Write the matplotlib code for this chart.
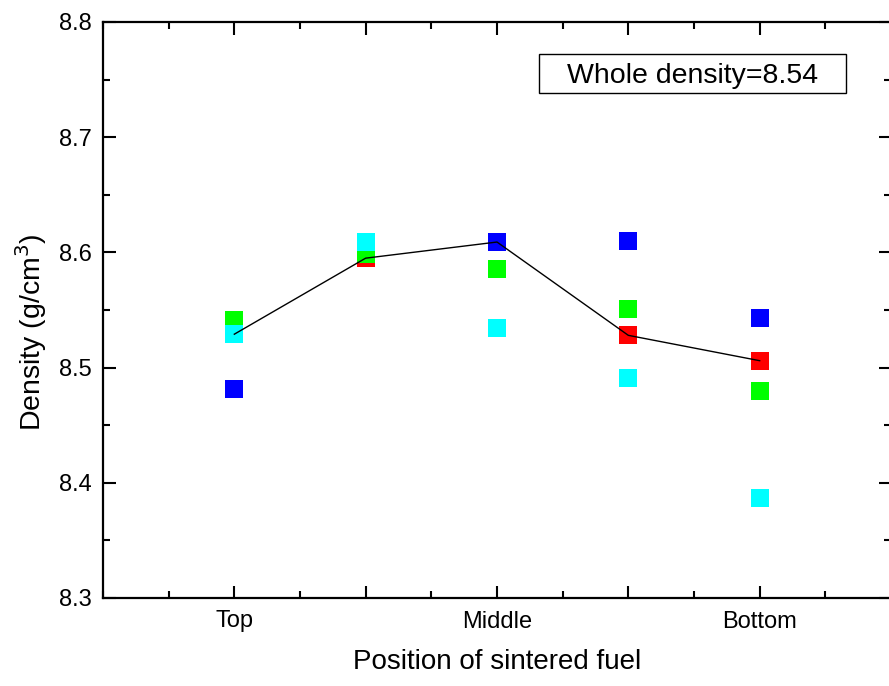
import matplotlib.pyplot as plt
import numpy as np
from matplotlib.ticker import MultipleLocator
from matplotlib.patches import Rectangle

plt.rcParams['font.family'] = ['Liberation Sans', 'DejaVu Sans']

# positions along the fuel pellet
positions = [1, 2, 3, 4, 5]
tick_labels = ['Top', '', 'Middle', '', 'Bottom']

# density readings (g/cm3) for the four samples
red_vals = [8.529, 8.595, 8.609, 8.528, 8.506]
blue_vals = [8.481, 8.602, 8.609, 8.610, 8.543]
green_vals = [8.541, 8.599, 8.586, 8.551, 8.480]
cyan_vals = [8.529, 8.609, 8.534, 8.491, 8.387]

whole_density = 8.54

fig = plt.figure(figsize=(8.89, 6.86), dpi=100)
ax = fig.add_axes([103 / 889, 88 / 686, 788 / 889, 576 / 686])

ms = 12.5
ax.plot(positions, red_vals, 's', color='#ff0000', markersize=ms, markeredgewidth=0, zorder=3)
ax.plot(positions, blue_vals, 's', color='#0000ff', markersize=ms, markeredgewidth=0, zorder=3)
ax.plot(positions, green_vals, 's', color='#00ff00', markersize=ms, markeredgewidth=0, zorder=3)
ax.plot(positions, cyan_vals, 's', color='#00ffff', markersize=ms, markeredgewidth=0, zorder=3)
ax.plot(positions, red_vals, '-', color='black', linewidth=1.0, zorder=4)

ax.set_xlim(0, 6)
ax.set_ylim(8.3, 8.8)
ax.set_xticks(positions)
ax.set_xticklabels(tick_labels)
ax.xaxis.set_minor_locator(MultipleLocator(0.5))
ax.yaxis.set_major_locator(MultipleLocator(0.1))
ax.yaxis.set_minor_locator(MultipleLocator(0.05))
ax.yaxis.set_major_formatter(plt.FuncFormatter(lambda v, p: '%.1f' % v))

ax.tick_params(which='both', direction='in', top=True, right=True, width=1.5, labelsize=17)
ax.tick_params(which='major', length=9)
ax.tick_params(which='minor', length=5)
ax.tick_params(axis='x', pad=9)
ax.tick_params(axis='y', pad=8)
for s in ax.spines.values():
    s.set_linewidth(1.6)

ax.set_xlabel('Position of sintered fuel', fontsize=20, labelpad=12)
ax.set_ylabel('Density (g/cm$^3$)', fontsize=20.5)
ax.yaxis.set_label_coords(-0.068, 0.462)

# annotation box
ax.add_patch(Rectangle((0.5533, 0.8767), 0.3896, 0.0677, transform=ax.transAxes,
                       facecolor='white', edgecolor='black', linewidth=1.0, zorder=5))
ax.text(0.748, 0.894, 'Whole density=%.2f' % whole_density, transform=ax.transAxes,
        ha='center', va='baseline', fontsize=20.5, zorder=6)

fig.savefig('out.png', dpi=100)
